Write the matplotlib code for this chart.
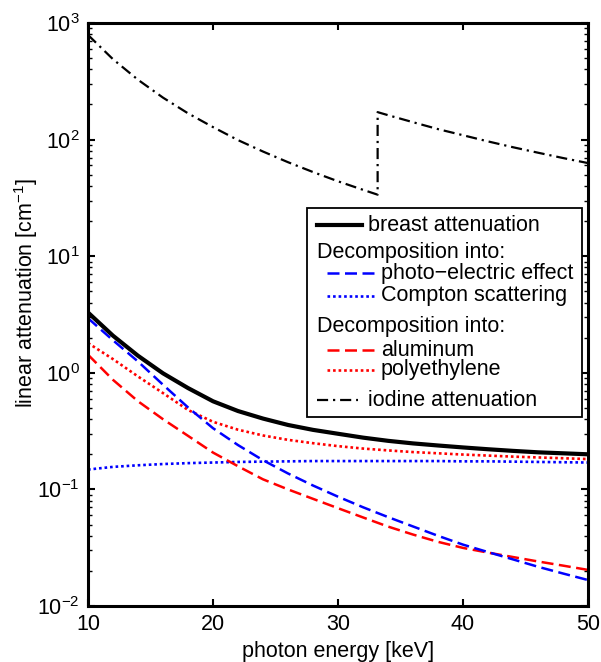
import numpy as np
import matplotlib
matplotlib.use('Agg')
import matplotlib.pyplot as plt
from matplotlib.lines import Line2D
from matplotlib.patches import Rectangle

plt.rcParams['font.family'] = ['Liberation Sans', 'DejaVu Sans']
plt.rcParams['mathtext.fontset'] = 'custom'
plt.rcParams['mathtext.rm'] = 'Liberation Sans'
plt.rcParams['mathtext.it'] = 'Liberation Sans:italic'
plt.rcParams['mathtext.bf'] = 'Liberation Sans:bold'

# photon energy grid [keV]
energy = [10, 12, 14, 16, 18, 20, 22, 24, 26, 28, 30,
          32, 34, 36, 38, 40, 42, 44, 46, 48, 50]

# linear attenuation [1/cm]
breast = [3.29, 2.08, 1.40, 0.99, 0.74, 0.57, 0.47, 0.405, 0.357, 0.324, 0.300,
          0.278, 0.261, 0.248, 0.238, 0.229, 0.221, 0.214, 0.208, 0.204, 0.200]
photo = [2.94, 1.90, 1.25, 0.79, 0.505, 0.335, 0.240, 0.178, 0.137, 0.108, 0.0866,
         0.0703, 0.0579, 0.0481, 0.0400, 0.0336, 0.0290, 0.0251, 0.0217, 0.0190, 0.0167]
compton = [0.148, 0.156, 0.161, 0.165, 0.168, 0.170, 0.172, 0.173, 0.174, 0.175, 0.175,
           0.175, 0.175, 0.175, 0.175, 0.174, 0.174, 0.173, 0.172, 0.171, 0.170]
aluminum = [1.43, 0.87, 0.57, 0.40, 0.288, 0.207, 0.158, 0.122, 0.100, 0.083, 0.069,
            0.0575, 0.048, 0.041, 0.0355, 0.0315, 0.0287, 0.0263, 0.0241, 0.0222, 0.0204]
polyethylene = [1.80, 1.31, 0.93, 0.67, 0.48, 0.38, 0.325, 0.290, 0.266, 0.249, 0.235,
                0.224, 0.216, 0.209, 0.204, 0.199, 0.195, 0.191, 0.188, 0.185, 0.182]

# iodine, with the K-edge at 33.17 keV
iodine_energy = [10, 12, 14, 16, 18, 20, 22, 24, 26, 28, 30, 32, 33.17,
                 33.17, 34, 36, 38, 40, 42, 44, 46, 48, 50]
iodine = [790, 489, 326, 229, 168, 128, 99, 79, 64, 52.7, 43.9, 37.1, 33.7,
          172, 162, 141, 123, 109, 96.5, 86, 77.2, 69.5, 62.9]

fig = plt.figure(figsize=(6.01, 6.62), dpi=100)
ax = fig.add_axes([88 / 601, 1 - 606 / 662, 500 / 601, 583 / 662])

dash = (0, (4.8, 2.2))
dot = (0, (1.0, 1.1))
dashdot = (0, (5, 2.2, 1, 2.2))

ax.plot(iodine_energy, iodine, color='k', lw=1.6, ls=dashdot)
ax.plot(energy, compton, color='#0000ff', lw=1.9, ls=dot)
ax.plot(energy, polyethylene, color='#ff0000', lw=1.9, ls=dot)
ax.plot(energy, aluminum, color='#ff0000', lw=1.8, ls=dash)
ax.plot(energy, photo, color='#0000ff', lw=1.8, ls=dash)
ax.plot(energy, breast, color='k', lw=3.0)

ax.set_yscale('log')
ax.set_xlim(10, 50)
ax.set_ylim(1e-2, 1e3)
ax.set_xticks([10, 20, 30, 40, 50])
ax.tick_params(which='both', direction='in', top=True, right=True, labelsize=15.5)
ax.tick_params(which='major', length=5, width=1.5, pad=6)
ax.tick_params(which='minor', length=3, width=1.0)
for s in ax.spines.values():
    s.set_linewidth(2.2)

ax.set_xlabel('photon energy [keV]', fontsize=15.5, labelpad=4)
ax.set_ylabel('linear attenuation [cm$^{-1}$]', fontsize=15.5)
ax.yaxis.set_label_coords(-0.096, 0.537)

# legend drawn by hand to get the indented sub entries
ax.add_patch(Rectangle((0.438, 0.324), 0.550, 0.359, transform=ax.transAxes,
                       facecolor='white', edgecolor='k', lw=1.3, zorder=5))
entries = [
    (0.6535, 0.458, 0.548, 0.560, dict(color='k', lw=3.0, ls='-'), 'breast attenuation'),
    (0.607, None, None, 0.458, None, 'Decomposition into:'),
    (0.571, 0.478, 0.574, 0.586, dict(color='#0000ff', lw=1.8, ls=dash), 'photo\u2212electric effect'),
    (0.532, 0.478, 0.574, 0.586, dict(color='#0000ff', lw=1.9, ls=dot), 'Compton scattering'),
    (0.4786, None, None, 0.458, None, 'Decomposition into:'),
    (0.439, 0.478, 0.574, 0.586, dict(color='#ff0000', lw=1.8, ls=dash), 'aluminum'),
    (0.405, 0.478, 0.574, 0.586, dict(color='#ff0000', lw=1.9, ls=dot), 'polyethylene'),
    (0.353, 0.458, 0.540, 0.560, dict(color='k', lw=1.6, ls=dashdot), 'iodine attenuation'),
]
for y, x0, x1, xt, style, label in entries:
    if style is not None:
        ax.add_line(Line2D([x0, x1], [y, y], transform=ax.transAxes, zorder=6, **style))
    ax.text(xt, y, label, transform=ax.transAxes, fontsize=15.5,
            va='center', ha='left', zorder=6)

fig.savefig('out.png', dpi=100)
